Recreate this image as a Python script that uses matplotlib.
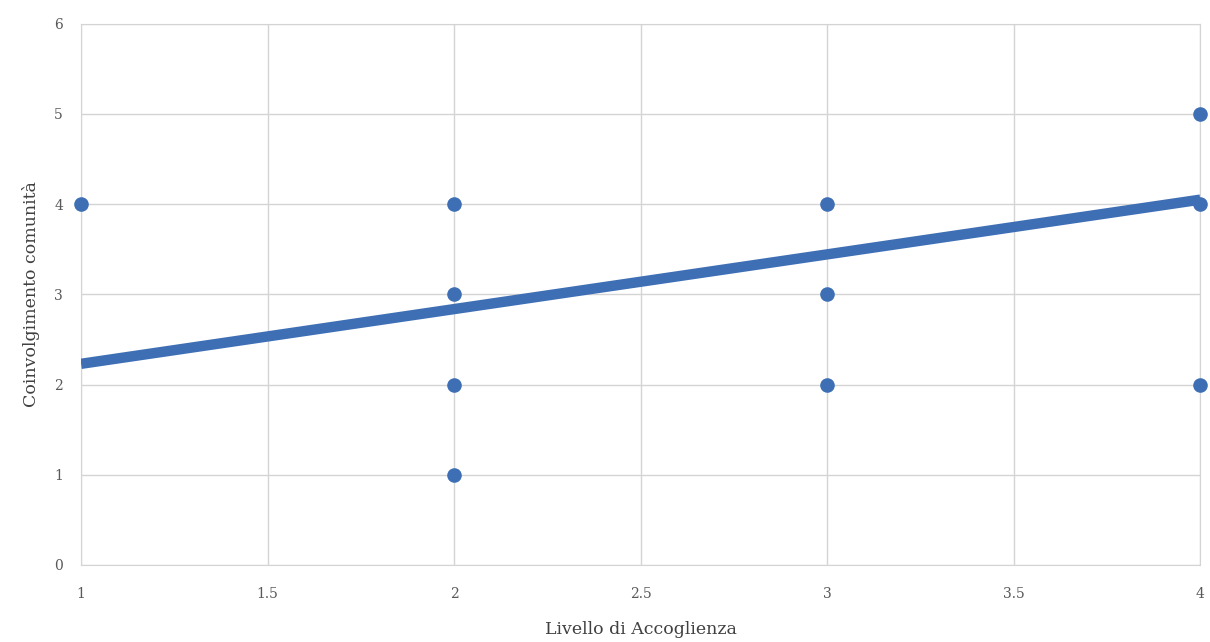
import matplotlib
matplotlib.use('Agg')
import matplotlib.pyplot as plt

# punti osservati (Livello di Accoglienza, Coinvolgimento comunità)
accoglienza = [1, 2, 2, 2, 2, 3, 3, 3, 4, 4, 4]
coinvolgimento = [4, 4, 3, 2, 1, 4, 3, 2, 5, 4, 2]

# linea di tendenza
trend_x = [1, 4]
trend_y = [2.23, 4.05]

x_ticks = [1, 1.5, 2, 2.5, 3, 3.5, 4]
x_tick_labels = ['1', '1.5', '2', '2.5', '3', '3.5', '4']
y_ticks = [0, 1, 2, 3, 4, 5, 6]

blue = '#3e6fb5'
grid_col = '#d4d4d4'
text_col = '#595959'

plt.rcParams['font.family'] = ['DejaVu Serif']

fig = plt.figure(figsize=(12.1, 6.42), dpi=100)
ax = fig.add_axes([0.067, 0.12, 0.925, 0.843])

ax.plot(trend_x, trend_y, color=blue, linewidth=7.5, solid_capstyle='butt', zorder=3)
ax.scatter(accoglienza, coinvolgimento, s=90, color=blue, zorder=4, clip_on=False)

ax.set_xlim(1, 4)
ax.set_ylim(0, 6)
ax.set_xticks(x_ticks)
ax.set_xticklabels(x_tick_labels)
ax.set_yticks(y_ticks)
ax.grid(True, color=grid_col, linewidth=1)
ax.set_axisbelow(True)
for s in ax.spines.values():
    s.set_color(grid_col)
ax.tick_params(length=0, labelsize=10, colors=text_col)
ax.tick_params(axis='x', pad=16)
ax.tick_params(axis='y', pad=13)

ax.set_xlabel('Livello di Accoglienza', fontsize=12.5, color='#404040', labelpad=14)
ax.set_ylabel('Coinvolgimento comunità', fontsize=12.5, color='#404040', labelpad=10)

fig.savefig('out.png', dpi=100, facecolor='white')
